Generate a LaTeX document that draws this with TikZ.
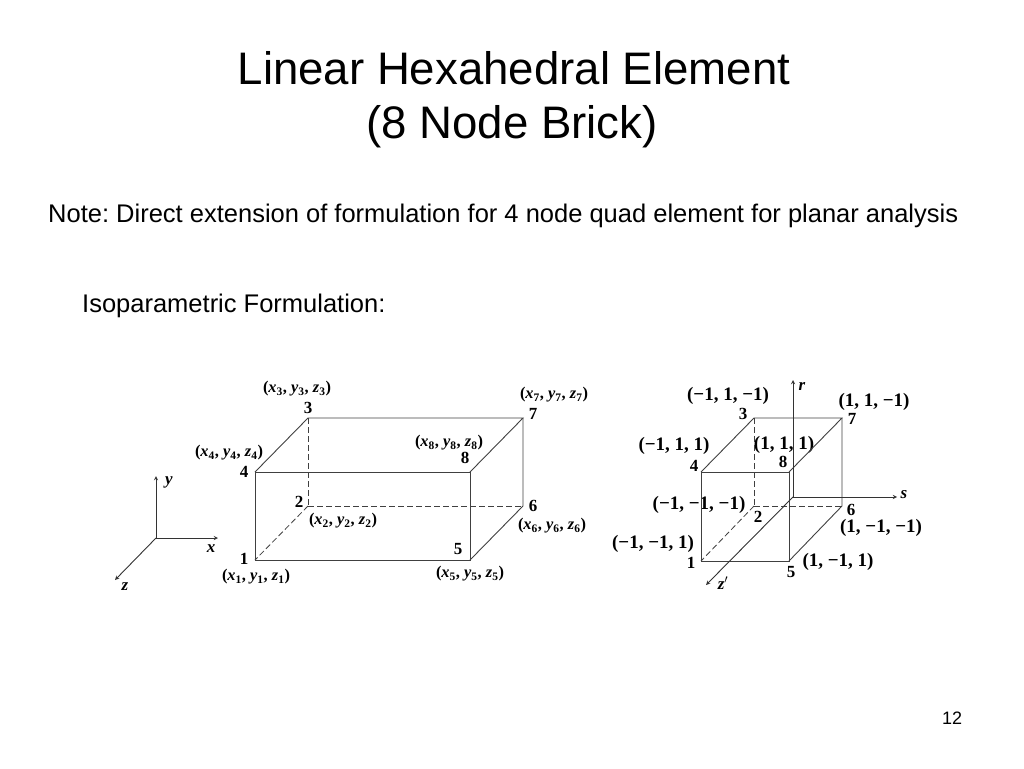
\documentclass[tikz,border=0pt]{standalone}
\usepackage{fontspec}
\setmainfont{Liberation Sans}
\newfontfamily\labelfont{Liberation Serif}
\usetikzlibrary{arrows,positioning}

\newcommand{\nodevar}[2]{\textit{#1}\textsubscript{#2}}
\newcommand{\nodept}[1]{(\nodevar{x}{#1}, \nodevar{y}{#1}, \nodevar{z}{#1})}

\tikzset{
  slidetext/.style={inner sep=0pt,text=black},
  numlabel/.style={inner sep=0pt,font=\labelfont\bfseries\fontsize{17}{19}\selectfont},
  ptlabel/.style={inner sep=0pt,font=\labelfont\bfseries\fontsize{16.4}{19}\selectfont},
  natlabel/.style={inner sep=0pt,font=\labelfont\bfseries\fontsize{19}{22}\selectfont},
  axislabel/.style={inner sep=0pt,font=\labelfont\bfseries\itshape\fontsize{17}{20}\selectfont},
  brickline/.style={draw=black!75,line width=0.9pt},
  hiddenline/.style={draw=black!75,line width=0.8pt,dashed,dash pattern=on 6pt off 3pt},
  axisline/.style={draw=black!80,line width=0.9pt,-stealth}
}

\begin{document}
\begin{tikzpicture}[x=1pt,y=-1pt]
\useasboundingbox (0,0) rectangle (1024,768);

% slide text
\node [slidetext,anchor=base,font=\fontsize{45.6}{52}\selectfont] (title) at (514,84) {Linear Hexahedral Element};
\node [slidetext,anchor=base,font=\fontsize{45.6}{52}\selectfont] (subtitle) at (512,138) {(8 Node Brick)};
\node [slidetext,anchor=base west,font=\frenchspacing\fontsize{25.5}{30}\selectfont] (note) at (48,222) {Note: Direct extension of formulation for 4 node quad element for planar analysis};
\node [slidetext,anchor=base west,font=\fontsize{25.5}{30}\selectfont] (iso) at (82,312) {Isoparametric Formulation:};
\node [slidetext,anchor=base,font=\fontsize{18}{21}\selectfont] (page) at (952,724) {12};

% global brick
\foreach \i/\px/\py in {1/255/560,2/308/506,3/308/418,4/255/472,5/470/560,6/523/506,7/523/418,8/470/472}
  \coordinate (a\i) at (\px,\py);
\foreach \i/\px/\py in {1/244/559,2/299/502,3/308/408,4/244/472,5/458/549,6/533/506,7/533/414,8/465/458}
  \node [numlabel] (an\i) at (\px,\py) {\i};
\foreach \i/\px/\py in {1/256/577,2/343/521,3/297/389,4/229/453,5/470/574,6/552/526,7/554/395,8/449/443}
  \node [ptlabel] (ap\i) at (\px,\py) {\nodept{\i}};

\draw [brickline] (a1) -- (a5) -- (a8) -- (a4) -- cycle;
\draw [brickline] (a4) -- (a3) -- (a7) -- (a8);
\draw [brickline] (a7) -- (a6) -- (a5);
\draw [hiddenline] (a3) -- (a2);
\draw [hiddenline] (a2) -- (a6);
\draw [hiddenline] (a2) -- (a1);

% global axes
\coordinate (o) at (156,538);
\coordinate (ytip) at (156,476);
\coordinate (xtip) at (218,538);
\coordinate (ztip) at (115,580);
\draw [axisline] (o) -- (ytip);
\draw [axisline] (o) -- (xtip);
\draw [axisline] (o) -- (ztip);
\node [axislabel] (ylabel) at (169,482) {y};
\node [axislabel] (xlabel) at (211,549) {x};
\node [axislabel] (zlabel) at (125,587) {z};

% natural brick
\foreach \i/\px/\py in {1/701/561,2/754/506,3/754/418,4/701/472,5/789/561,6/842/506,7/842/418,8/789/472}
  \coordinate (b\i) at (\px,\py);
\foreach \i/\px/\py in {1/691/563,2/758/517,3/743/414,4/694/466,5/791/572,6/851/510,7/852/419,8/783/462}
  \node [numlabel] (bn\i) at (\px,\py) {\i};
\foreach \i/\px/\py/\txt in {1/653/544/{−1, −1, 1},2/699/505/{−1, −1, −1},3/728/396/{−1, 1, −1},4/674/446/{−1, 1, 1},5/838/562/{1, −1, 1},6/881/528/{1, −1, −1},7/874/402/{1, 1, −1},8/784/445/{1, 1, 1}}
  \node [natlabel] (bp\i) at (\px,\py) {(\txt)};

\draw [brickline] (b1) -- (b5) -- (b8) -- (b4) -- cycle;
\draw [brickline] (b4) -- (b3) -- (b7) -- (b8);
\draw [brickline] (b7) -- (b6) -- (b5);
\draw [hiddenline] (b3) -- (b2);
\draw [hiddenline] (b2) -- (b6);
\draw [hiddenline] (b2) -- (b1);

% natural axes
\coordinate (c) at (793,497);
\coordinate (rtip) at (793,380);
\coordinate (stip) at (897,497);
\coordinate (ttip) at (706,585);
\draw [axisline] (c) -- (rtip);
\draw [axisline] (c) -- (stip);
\draw [axisline] (c) -- (ttip);
\node [axislabel] (rlabel) at (802,386) {r};
\node [axislabel] (slabel) at (904,495) {s};
\node [axislabel] (tlabel) at (723,583) {z$'$};

\end{tikzpicture}
\end{document}
